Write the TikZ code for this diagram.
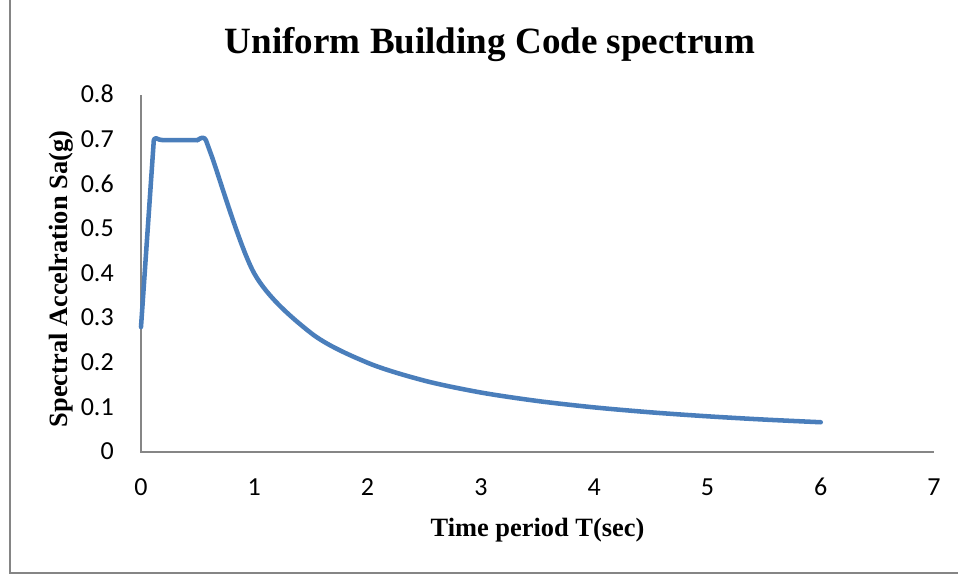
\documentclass[tikz,border=0pt]{standalone}
\usepackage{fontspec}
\setmainfont{Liberation Serif}
\newfontfamily\tickfont{Carlito}
\definecolor{framegray}{HTML}{858585}
\definecolor{axisgray}{HTML}{868686}
\definecolor{curveblue}{HTML}{4A7EBB}
\begin{document}
\begin{tikzpicture}[x=0.75pt,y=-0.75pt,
  frameline/.style={draw=framegray,line width=1.5pt},
  axisline/.style={draw=axisgray,line width=1.1pt},
  ticklab/.style={font=\tickfont\fontsize{19.5}{22}\selectfont,inner sep=0pt},
  axislab/.style={font=\bfseries\fontsize{19.8}{23}\selectfont,inner sep=0pt},
  titlelab/.style={font=\bfseries\fontsize{27.8}{32}\selectfont,inner sep=0pt},
  curve/.style={draw=curveblue,line width=3.4pt,line cap=round,line join=round}]
\useasboundingbox (0,0) rectangle (958,575);
\fill[white] (0,0) rectangle (958,575);
% chart frame (left and bottom edges)
\draw[frameline] (10,0) -- (10,573) -- (958,573);
% title
\node[titlelab,anchor=base] (title) at (490,53) {Uniform Building Code spectrum};
% axes
\coordinate (ytop) at (141,95);
\coordinate (origin) at (141,452);
\coordinate (xend) at (934,452);
\draw[axisline] (ytop) -- (origin) -- (xend);
% y tick labels
\foreach \k in {0,...,8}{
  \node[ticklab,anchor=base east] (ytick\k) at (114,{452-44.625*\k+7.8})
    {\ifnum\k=0 0\else 0.\k\fi};
}
% x tick labels
\foreach \k in {0,...,7}{
  \node[ticklab,anchor=base] (xtick\k) at ({141+113.29*\k},495) {\k};
}
% axis titles
\node[axislab,anchor=base] (xlabel) at (537.5,536) {Time period T(sec)};
\node[axislab,rotate=90,anchor=base] (ylabel) at (67.5,279) {Spectral Accelration Sa(g)};
% spectrum curve in data coordinates: rising branch and plateau
\begin{scope}[shift={(141,452)},x=84.97pt,y=334.69pt]
\draw[curve,rounded corners=2.5pt] (0,0.28) -- (0.115,0.706) -- (0.16,0.699)
  -- (0.5,0.699);
% plateau end and descending branch
\draw[curve] plot[smooth,tension=0.5] coordinates {
  (0.5,0.699) (0.56,0.703) (0.62,0.666) (1.0,0.40) (1.5,0.2667) (2.0,0.20)
  (2.5,0.16) (3.0,0.1333) (3.5,0.1143) (4.0,0.10) (4.5,0.0889) (5.0,0.08)
  (5.5,0.0727) (6.0,0.0667)};
\end{scope}
\end{tikzpicture}
\end{document}
